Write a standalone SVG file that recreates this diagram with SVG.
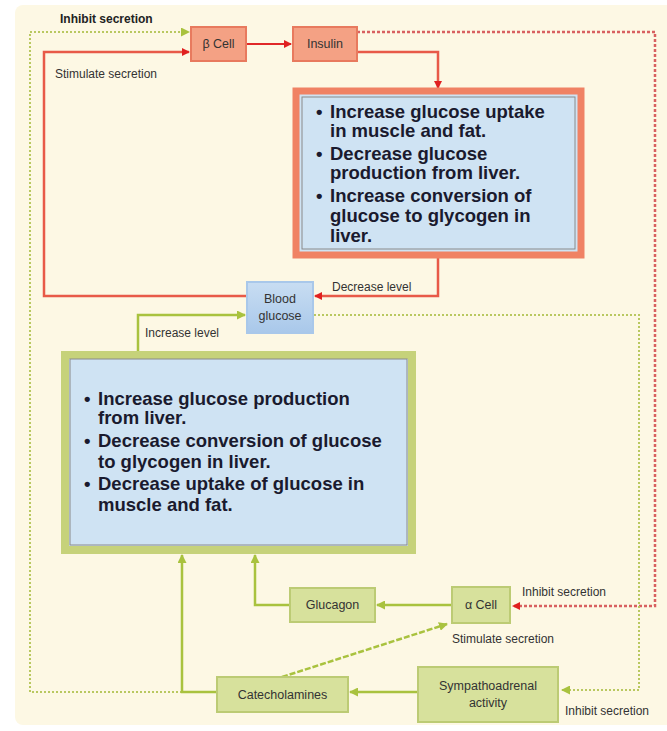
<svg xmlns="http://www.w3.org/2000/svg" width="667" height="731" viewBox="0 0 667 731">
<defs>
<style>
.lbl{font-family:"Liberation Sans",Arial,sans-serif;font-size:12px;fill:#333}
.lblb{font-family:"Liberation Sans",Arial,sans-serif;font-size:12px;fill:#222;font-weight:bold}
.big{font-family:"Liberation Sans",Arial,sans-serif;font-size:18.5px;font-weight:bold;fill:#1a1a2e}
.nt{font-family:"Liberation Sans",Arial,sans-serif;font-size:12.5px;fill:#333;text-anchor:middle}
.rbox{fill:#f4a184;stroke:#e87a5e;stroke-width:2}
.gbox{fill:#d7e19c;stroke:#bccb74;stroke-width:2}
.red{stroke:#e85a48;stroke-width:2.5;fill:none}
.redd{stroke:#e02828;stroke-width:2;fill:none}
.grn{stroke:#a9c23e;stroke-width:2.5;fill:none}
.gdot{stroke:#b9c860;stroke-width:2;fill:none;stroke-dasharray:2 2}
.rdot{stroke:#d86060;stroke-width:2.5;fill:none;stroke-dasharray:3 2}
</style>
<marker id="ar" markerWidth="8" markerHeight="8" refX="7" refY="4" orient="auto" markerUnits="userSpaceOnUse"><path d="M0,0 L8,4 L0,8 z" fill="#e02020"/></marker>
<marker id="ag" markerWidth="9" markerHeight="9" refX="8" refY="4.5" orient="auto" markerUnits="userSpaceOnUse"><path d="M0,0 L9,4.5 L0,9 z" fill="#a9c23e"/></marker>
<linearGradient id="bg" x1="0" y1="0" x2="0" y2="1"><stop offset="0" stop-color="#c8ddf2"/><stop offset="1" stop-color="#a9c8ea"/></linearGradient>
</defs>
<rect x="0" y="0" width="667" height="731" fill="#ffffff"/>
<rect x="15" y="5" width="660" height="720" rx="8" fill="#fdf8e4"/>

<g id="connectors">
<polyline class="gdot" points="182,692 30,692 30,32 189,32" marker-end="url(#ag)"/>
<polyline class="red" points="247,296 44,296 44,52 189,52" marker-end="url(#ar)"/>
<line class="redd" x1="246" y1="44" x2="291" y2="44" marker-end="url(#ar)"/>
<polyline class="red" points="357,52 438,52 438,88" marker-end="url(#ar)"/>
<polyline class="rdot" points="357,32 655,32 655,606 513,606" marker-end="url(#ar)"/>
<polyline class="red" points="438,258 438,296 315,296" marker-end="url(#ar)"/>
<polyline class="grn" points="138,351 138,315 245,315" marker-end="url(#ag)"/>
<polyline class="gdot" points="314,315 639,315 639,690 562,690" marker-end="url(#ag)"/>
<polyline class="grn" points="217,692 182,692 182,555" marker-end="url(#ag)"/>
<polyline class="grn" points="290,605 255,605 255,555" marker-end="url(#ag)"/>
<line class="grn" x1="452" y1="605" x2="377" y2="605" marker-end="url(#ag)"/>
<line class="grn" x1="418" y1="692" x2="350" y2="692" marker-end="url(#ag)"/>
<line class="grn" x1="282" y1="677" x2="447" y2="624" stroke-dasharray="6 2" marker-end="url(#ag)"/>
</g>

<g id="labels">
<text class="lblb" x="60" y="23">Inhibit secretion</text>
<text class="lbl" x="55" y="78">Stimulate secretion</text>
<text class="lbl" x="332" y="291">Decrease level</text>
<text class="lbl" x="145" y="337">Increase level</text>
<text class="lbl" x="522" y="596">Inhibit secretion</text>
<text class="lbl" x="452" y="643">Stimulate secretion</text>
<text class="lbl" x="565" y="715">Inhibit secretion</text>
</g>

<g id="beta-cell">
<rect class="rbox" x="191" y="27" width="55" height="34"/>
<text class="nt" x="218.5" y="48">β Cell</text>
</g>
<g id="insulin">
<rect class="rbox" x="293" y="27" width="64" height="34"/>
<text class="nt" x="325" y="48">Insulin</text>
</g>

<g id="insulin-effects">
<rect x="296" y="91" width="285" height="164" fill="#cfe3f3" stroke="#f08264" stroke-width="7"/>
<rect x="302" y="97" width="273" height="152" fill="none" stroke="#8a8a8a" stroke-width="1"/>
<text class="big" x="316" y="118">•</text><text class="big" x="330" y="118">Increase glucose uptake</text>
<text class="big" x="330" y="137">in muscle and fat.</text>
<text class="big" x="316" y="160">•</text><text class="big" x="330" y="160">Decrease glucose</text>
<text class="big" x="330" y="179">production from liver.</text>
<text class="big" x="316" y="202">•</text><text class="big" x="330" y="202">Increase conversion of</text>
<text class="big" x="330" y="222">glucose to glycogen in</text>
<text class="big" x="330" y="242">liver.</text>
</g>

<g id="blood-glucose">
<rect x="247" y="282" width="66" height="51" fill="url(#bg)" stroke="#a9c8ea" stroke-width="2"/>
<text class="nt" x="280" y="303">Blood</text>
<text class="nt" x="280" y="320">glucose</text>
</g>

<g id="glucagon-effects">
<rect x="65" y="355" width="347" height="195" fill="#cfe3f3" stroke="#c6d27a" stroke-width="8"/>
<rect x="70" y="359" width="337" height="186" fill="none" stroke="#8a8a8a" stroke-width="1"/>
<text class="big" x="84" y="405">•</text><text class="big" x="98" y="405">Increase glucose production</text>
<text class="big" x="98" y="424">from liver.</text>
<text class="big" x="84" y="447">•</text><text class="big" x="98" y="447">Decrease conversion of glucose</text>
<text class="big" x="98" y="468">to glycogen in liver.</text>
<text class="big" x="84" y="490">•</text><text class="big" x="98" y="490">Decrease uptake of glucose in</text>
<text class="big" x="98" y="511">muscle and fat.</text>
</g>

<g id="glucagon">
<rect class="gbox" x="290" y="588" width="85" height="34"/>
<text class="nt" x="332.5" y="609">Glucagon</text>
</g>
<g id="alpha-cell">
<rect class="gbox" x="452" y="587" width="58" height="36"/>
<text class="nt" x="481" y="609">α Cell</text>
</g>
<g id="catecholamines">
<rect class="gbox" x="217" y="677" width="131" height="35"/>
<text class="nt" x="282.5" y="699">Catecholamines</text>
</g>
<g id="sympathoadrenal">
<rect class="gbox" x="418" y="667" width="140" height="55"/>
<text class="nt" x="488" y="690">Sympathoadrenal</text>
<text class="nt" x="488" y="707">activity</text>
</g>
</svg>
